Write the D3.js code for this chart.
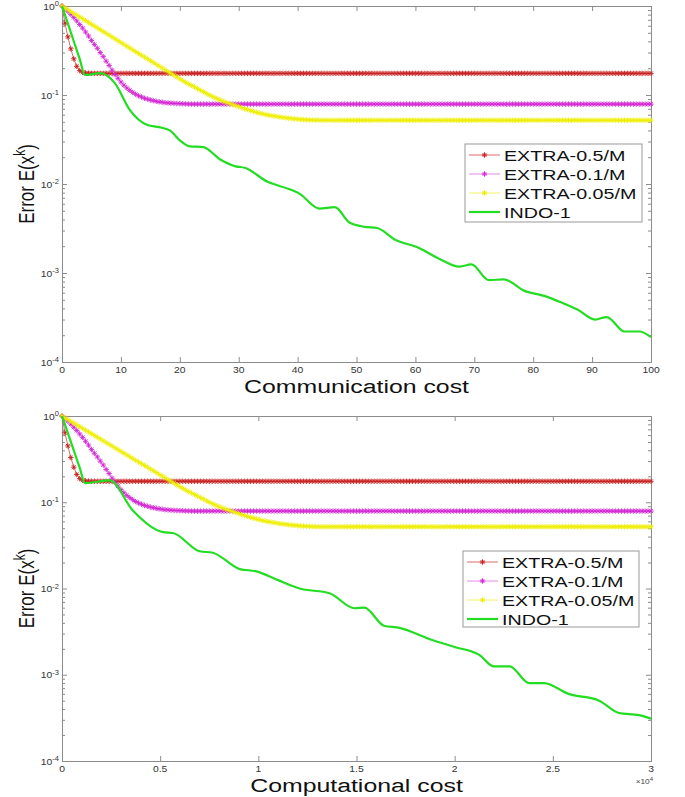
<!DOCTYPE html>
<html>
<head>
<meta charset="utf-8">
<script src="https://cdn.jsdelivr.net/npm/d3@7"></script>
<style>
  body { margin: 0; background: #fff; }
  svg { display: block; }
  text { font-family: "Liberation Sans", Arial, sans-serif; }
</style>
</head>
<body>
<div id="viz"></div>
<script>

// x values: communication cost (top) and computational cost (bottom), one per half-iteration
var commCost = [
  0,0.5,1,1.5,2,2.5,3,3.5,4,4.5,5,5.5,6,6.5,7,7.5,8,8.5,9,9.5,
  10,10.5,11,11.5,12,12.5,13,13.5,14,14.5,15,15.5,16,16.5,17,17.5,18,18.5,19,19.5,
  20,20.5,21,21.5,22,22.5,23,23.5,24,24.5,25,25.5,26,26.5,27,27.5,28,28.5,29,29.5,
  30,30.5,31,31.5,32,32.5,33,33.5,34,34.5,35,35.5,36,36.5,37,37.5,38,38.5,39,39.5,
  40,40.5,41,41.5,42,42.5,43,43.5,44,44.5,45,45.5,46,46.5,47,47.5,48,48.5,49,49.5,
  50,50.5,51,51.5,52,52.5,53,53.5,54,54.5,55,55.5,56,56.5,57,57.5,58,58.5,59,59.5,
  60,60.5,61,61.5,62,62.5,63,63.5,64,64.5,65,65.5,66,66.5,67,67.5,68,68.5,69,69.5,
  70,70.5,71,71.5,72,72.5,73,73.5,74,74.5,75,75.5,76,76.5,77,77.5,78,78.5,79,79.5,
  80,80.5,81,81.5,82,82.5,83,83.5,84,84.5,85,85.5,86,86.5,87,87.5,88,88.5,89,89.5,
  90,90.5,91,91.5,92,92.5,93,93.5,94,94.5,95,95.5,96,96.5,97,97.5,98,98.5,99,99.5,
  100];
var compCost = [
  0,150,300,450,600,750,900,1050,1200,1350,1500,1650,1800,1950,2100,2250,2400,2550,2700,2850,
  3000,3150,3300,3450,3600,3750,3900,4050,4200,4350,4500,4650,4800,4950,5100,5250,5400,5550,5700,5850,
  6000,6150,6300,6450,6600,6750,6900,7050,7200,7350,7500,7650,7800,7950,8100,8250,8400,8550,8700,8850,
  9000,9150,9300,9450,9600,9750,9900,10050,10200,10350,10500,10650,10800,10950,11100,11250,11400,11550,11700,11850,
  12000,12150,12300,12450,12600,12750,12900,13050,13200,13350,13500,13650,13800,13950,14100,14250,14400,14550,14700,14850,
  15000,15150,15300,15450,15600,15750,15900,16050,16200,16350,16500,16650,16800,16950,17100,17250,17400,17550,17700,17850,
  18000,18150,18300,18450,18600,18750,18900,19050,19200,19350,19500,19650,19800,19950,20100,20250,20400,20550,20700,20850,
  21000,21150,21300,21450,21600,21750,21900,22050,22200,22350,22500,22650,22800,22950,23100,23250,23400,23550,23700,23850,
  24000,24150,24300,24450,24600,24750,24900,25050,25200,25350,25500,25650,25800,25950,26100,26250,26400,26550,26700,26850,
  27000,27150,27300,27450,27600,27750,27900,28050,28200,28350,28500,28650,28800,28950,29100,29250,29400,29550,29700,29850,
  30000];

// EXTRA error values (same curves in both panels)
var extra05 = [
  1,0.64,0.45,0.33,0.255,0.21,0.188,0.18,0.177,0.176,
  0.175,0.175,0.175,0.175,0.175,0.175,0.175,0.175,0.175,0.175,0.175,0.175,0.175,0.175,0.175,0.175,0.175,0.175,0.175,0.175,
  0.175,0.175,0.175,0.175,0.175,0.175,0.175,0.175,0.175,0.175,0.175,0.175,0.175,0.175,0.175,0.175,0.175,0.175,0.175,0.175,
  0.175,0.175,0.175,0.175,0.175,0.175,0.175,0.175,0.175,0.175,0.175,0.175,0.175,0.175,0.175,0.175,0.175,0.175,0.175,0.175,
  0.175,0.175,0.175,0.175,0.175,0.175,0.175,0.175,0.175,0.175,0.175,0.175,0.175,0.175,0.175,0.175,0.175,0.175,0.175,0.175,
  0.175,0.175,0.175,0.175,0.175,0.175,0.175,0.175,0.175,0.175,0.175,0.175,0.175,0.175,0.175,0.175,0.175,0.175,0.175,0.175,
  0.175,0.175,0.175,0.175,0.175,0.175,0.175,0.175,0.175,0.175,0.175,0.175,0.175,0.175,0.175,0.175,0.175,0.175,0.175,0.175,
  0.175,0.175,0.175,0.175,0.175,0.175,0.175,0.175,0.175,0.175,0.175,0.175,0.175,0.175,0.175,0.175,0.175,0.175,0.175,0.175,
  0.175,0.175,0.175,0.175,0.175,0.175,0.175,0.175,0.175,0.175,0.175,0.175,0.175,0.175,0.175,0.175,0.175,0.175,0.175,0.175,
  0.175,0.175,0.175,0.175,0.175,0.175,0.175,0.175,0.175,0.175,0.175,0.175,0.175,0.175,0.175,0.175,0.175,0.175,0.175,0.175,
  0.175,0.175,0.175,0.175,0.175,0.175,0.175,0.175,0.175,0.175,0.175];
var extra01 = [
  1,0.94,0.87,0.805,0.74,0.68,0.62,0.565,0.51,0.46,0.41,0.37,0.335,0.3,0.27,0.24,0.215,0.19,0.17,0.154,
  0.14,0.129,0.12,0.113,0.107,0.102,0.098,0.095,0.092,0.09,0.088,0.0865,0.085,0.084,0.083,0.082,0.0815,0.081,0.0805,0.0802,
  0.08,0.0797,0.0795,0.0792,
  0.079,0.079,0.079,0.079,0.079,0.079,0.079,0.079,0.079,0.079,0.079,0.079,0.079,0.079,0.079,0.079,0.079,0.079,0.079,0.079,
  0.079,0.079,0.079,0.079,0.079,0.079,0.079,0.079,0.079,0.079,0.079,0.079,0.079,0.079,0.079,0.079,0.079,0.079,0.079,0.079,
  0.079,0.079,0.079,0.079,0.079,0.079,0.079,0.079,0.079,0.079,0.079,0.079,0.079,0.079,0.079,0.079,0.079,0.079,0.079,0.079,
  0.079,0.079,0.079,0.079,0.079,0.079,0.079,0.079,0.079,0.079,0.079,0.079,0.079,0.079,0.079,0.079,0.079,0.079,0.079,0.079,
  0.079,0.079,0.079,0.079,0.079,0.079,0.079,0.079,0.079,0.079,0.079,0.079,0.079,0.079,0.079,0.079,0.079,0.079,0.079,0.079,
  0.079,0.079,0.079,0.079,0.079,0.079,0.079,0.079,0.079,0.079,0.079,0.079,0.079,0.079,0.079,0.079,0.079,0.079,0.079,0.079,
  0.079,0.079,0.079,0.079,0.079,0.079,0.079,0.079,0.079,0.079,0.079,0.079,0.079,0.079,0.079,0.079,0.079,0.079,0.079,0.079,
  0.079,0.079,0.079,0.079,0.079,0.079,0.079,0.079,0.079,0.079,0.079,0.079,0.079,0.079,0.079,0.079,0.079];
var extra005 = [
  1,0.954,0.91,0.868,0.828,0.79,0.753,0.719,0.686,0.654,0.624,0.595,0.567,0.541,0.516,0.492,0.47,0.448,0.427,0.408,
  0.389,0.371,0.354,0.338,0.322,0.307,0.293,0.28,0.267,0.255,0.243,0.232,0.221,0.211,0.201,0.192,0.183,0.175,0.167,0.159,
  0.152,0.145,0.139,0.133,0.128,0.123,0.118,0.113,0.109,0.104,0.1,0.0965,0.093,0.09,0.087,0.0845,0.082,0.08,0.078,0.076,
  0.074,0.072,0.07,0.0685,0.067,0.0655,0.064,0.0627,0.0615,0.0605,0.0595,0.0587,0.058,0.0572,0.0565,0.0559,0.0553,0.0548,0.0543,0.0539,
  0.0535,0.0532,0.0529,0.0527,0.0525,0.0523,0.0522,0.0521,
  0.052,0.052,0.052,0.052,0.052,0.052,0.052,0.052,0.052,0.052,0.052,0.052,0.052,0.052,0.052,0.052,0.052,0.052,0.052,0.052,
  0.052,0.052,0.052,0.052,0.052,0.052,0.052,0.052,0.052,0.052,0.052,0.052,0.052,0.052,0.052,0.052,0.052,0.052,0.052,0.052,
  0.052,0.052,0.052,0.052,0.052,0.052,0.052,0.052,0.052,0.052,0.052,0.052,0.052,0.052,0.052,0.052,0.052,0.052,0.052,0.052,
  0.052,0.052,0.052,0.052,0.052,0.052,0.052,0.052,0.052,0.052,0.052,0.052,0.052,0.052,0.052,0.052,0.052,0.052,0.052,0.052,
  0.052,0.052,0.052,0.052,0.052,0.052,0.052,0.052,0.052,0.052,0.052,0.052,0.052,0.052,0.052,0.052,0.052,0.052,0.052,0.052,
  0.052,0.052,0.052,0.052,0.052,0.052,0.052,0.052,0.052,0.052,0.052,0.052,0.052];

// INDO-1 readings
var indoCommX = [0,1,2,3,3.9,6.5,9,11.5,14.5,16.5,18.3,20,21.7,24,26.8,29.5,31,35,38.5,40.3,43.7,46.3,
  48.8,51.4,53.5,56.4,60.7,64,67.5,69.5,72.5,75,78.5,82,85,87.5,90.5,92.5,95.5,98,100];
var indoComm = [1,0.634,0.402,0.255,0.168,0.176,0.135,0.068,0.046,0.0435,0.04,0.031,0.0265,0.026,0.019,
  0.0158,0.0152,0.0105,0.0088,0.0078,0.0053,0.0055,0.0037,0.0033,0.0032,0.0024,0.0019,0.00145,
  0.00118,0.00125,0.00083,0.00085,0.00063,0.00055,0.00046,0.00039,0.0003,0.00032,0.00022,0.00022,0.00019];
var indoCompX = [0,300,600,900,1170,2440,3610,5140,5650,7020,7680,9050,9900,11000,12100,13630,14900,
  15400,16400,17200,18700,20000,21250,22000,22800,23800,24560,25800,27360,28370,29390,30000];
var indoComp = [1,0.632,0.4,0.252,0.167,0.179,0.08,0.045,0.044,0.027,0.026,0.0168,0.0158,0.0125,0.01,
  0.0088,0.0059,0.006,0.0037,0.0035,0.0026,0.0021,0.0017,0.00125,0.00125,0.0008,0.0008,0.0006,
  0.0005,0.00036,0.00034,0.00031];

var seriesNames = ['EXTRA-0.5/M', 'EXTRA-0.1/M', 'EXTRA-0.05/M', 'INDO-1'];
var commTicks = [0,10,20,30,40,50,60,70,80,90,100];
var commTickLabels = ['0','10','20','30','40','50','60','70','80','90','100'];
var compTicks = [0,5000,10000,15000,20000,25000,30000];
var compTickLabels = ['0','0.5','1','1.5','2','2.5','3'];
var yTicks = [1e-4,1e-3,1e-2,1e-1,1];
var yTickExp = ['-4','-3','-2','-1','0'];

var W = 685, H = 797;
var lineCol = ['#e06a6a', '#e68ae6', '#f2f266', '#22dd22'];
var markCol = ['#c82020', '#d424d4', '#eeee00', '#22dd22'];
var star = 'M-2.7,0H2.7M0,-2.7V2.7M-1.9,-1.9L1.9,1.9M-1.9,1.9L1.9,-1.9';

var svg = d3.select('#viz').append('svg')
  .attr('width', W)
  .attr('height', H);

function stretch(sel, x, y, sx) {
  sel.attr('transform', 'translate(' + x + ',' + y + ') scale(' + sx + ',1)');
}

function drawPanel(p) {
  var x = d3.scaleLinear().domain([p.xTicks[0], p.xTicks[p.xTicks.length - 1]]).range([p.left, p.right]);
  var y = d3.scaleLog().domain([1e-4, 1]).range([p.bottom, p.top]);
  var g = svg.append('g');

  // minor log ticks
  var minors = [];
  yTicks.slice(0, 4).forEach(function(t) {
    for (var m = 2; m <= 9; m++) minors.push(t * m);
  });

  var axisCol = '#8c8c8c';
  var leftAxis = d3.axisLeft(y).tickValues(yTicks).tickSize(-5).tickFormat('');
  var rightAxis = d3.axisRight(y).tickValues(yTicks).tickSize(-5).tickFormat('');
  var leftMinor = d3.axisLeft(y).tickValues(minors).tickSize(-3).tickFormat('');
  var rightMinor = d3.axisRight(y).tickValues(minors).tickSize(-3).tickFormat('');
  var botAxis = d3.axisBottom(x).tickValues(p.xTicks).tickSize(-5).tickFormat('');
  var topAxis = d3.axisTop(x).tickValues(p.xTicks).tickSize(-5).tickFormat('');

  [[leftAxis, p.left, 0], [leftMinor, p.left, 0], [rightAxis, p.right, 0], [rightMinor, p.right, 0],
   [botAxis, 0, p.bottom], [topAxis, 0, p.top]].forEach(function(a) {
    var ag = g.append('g').attr('transform', 'translate(' + a[1] + ',' + a[2] + ')').call(a[0]);
    ag.selectAll('line').attr('stroke', axisCol);
    ag.select('.domain').attr('stroke', axisCol);
  });

  // y tick labels 10^k
  yTicks.forEach(function(t, i) {
    var tx = g.append('text')
      .attr('text-anchor', 'end')
      .attr('fill', '#333')
      .attr('font-size', 9);
    stretch(tx, p.left - 3, y(t) + 3.5, 1.15);
    tx.append('tspan').text('10');
    tx.append('tspan').attr('dy', -3.5).attr('font-size', 6.5).text(yTickExp[i]);
  });

  // x tick labels
  p.xTicks.forEach(function(t, i) {
    var tx = g.append('text')
      .attr('text-anchor', 'middle')
      .attr('fill', '#333')
      .attr('font-size', 9)
      .text(p.xTickLabels[i]);
    stretch(tx, x(t), p.bottom + 11, 1.15);
  });

  if (p.exponent) {
    var ex = g.append('text').attr('text-anchor', 'end').attr('fill', '#444').attr('font-size', 7.5);
    stretch(ex, p.right + 2, p.bottom + 23, 1.1);
    ex.append('tspan').text('\u00d710');
    ex.append('tspan').attr('dy', -3).attr('font-size', 5.5).text('4');
  }

  // axis titles
  var xt = g.append('text')
    .attr('text-anchor', 'middle')
    .attr('fill', '#111')
    .attr('font-size', 18)
    .text(p.xTitle);
  stretch(xt, (p.left + p.right) / 2, p.bottom + p.titleGap, 1.38);

  var yt = g.append('text')
    .attr('text-anchor', 'middle')
    .attr('fill', '#111')
    .attr('font-size', 17)
    .attr('transform', 'translate(34,' + ((p.top + p.bottom) / 2) + ') rotate(-90) scale(1,1.3)');
  yt.append('tspan').text('Error E(x');
  yt.append('tspan').attr('dy', -7).attr('font-size', 12).text('k');
  yt.append('tspan').attr('dy', 7).text(')');

  var series = [
    { xs: p.extraX, ys: extra05, marker: true },
    { xs: p.extraX, ys: extra01, marker: true },
    { xs: p.extraX, ys: extra005, marker: true },
    { xs: p.indoX, ys: p.indoY, marker: false }
  ];

  var plot = g.append('g');
  series.forEach(function(s, k) {
    var pts = s.xs.map(function(v, i) { return [v, s.ys[i]]; });
    var line = d3.line()
      .x(function(d) { return x(d[0]); })
      .y(function(d) { return y(d[1]); })
      .curve(s.marker ? d3.curveLinear : d3.curveMonotoneX);
    plot.append('path')
      .datum(pts)
      .attr('fill', 'none')
      .attr('stroke', lineCol[k])
      .attr('stroke-width', s.marker ? 1 : 2.2)
      .attr('d', line);
    if (s.marker) {
      plot.selectAll('.m' + k).data(pts).enter().append('path')
        .attr('class', 'm' + k)
        .attr('d', star)
        .attr('fill', 'none')
        .attr('stroke', markCol[k])
        .attr('stroke-width', 0.9)
        .attr('transform', function(d) { return 'translate(' + x(d[0]) + ',' + y(d[1]) + ')'; });
    }
  });

  // legend
  var lb = p.legend;
  g.append('rect')
    .attr('x', lb.x).attr('y', lb.y).attr('width', lb.w).attr('height', lb.h)
    .attr('fill', '#fff').attr('stroke', '#999').attr('stroke-width', 1);
  seriesNames.forEach(function(name, k) {
    var ry = lb.y + 11 + k * 19;
    g.append('line')
      .attr('x1', lb.x + 4).attr('x2', lb.x + 35).attr('y1', ry).attr('y2', ry)
      .attr('stroke', lineCol[k]).attr('stroke-width', k === 3 ? 2.2 : 1);
    if (k < 3) {
      g.append('path').attr('d', star).attr('fill', 'none')
        .attr('stroke', markCol[k]).attr('stroke-width', 1)
        .attr('transform', 'translate(' + (lb.x + 19.5) + ',' + ry + ')');
    }
    var tx = g.append('text').attr('fill', '#111').attr('font-size', 15.5).text(name);
    stretch(tx, lb.x + 39, ry + 5.5, 1.27);
  });
}

drawPanel({
  left: 62, right: 651, top: 6, bottom: 362,
  xTicks: commTicks, xTickLabels: commTickLabels, xTitle: 'Communication cost', titleGap: 31,
  extraX: commCost, indoX: indoCommX, indoY: indoComm, exponent: false,
  legend: { x: 465, y: 144, w: 177, h: 78 }
});

drawPanel({
  left: 62, right: 651, top: 416, bottom: 761,
  xTicks: compTicks, xTickLabels: compTickLabels, xTitle: 'Computational cost', titleGap: 31,
  extraX: compCost, indoX: indoCompX, indoY: indoComp, exponent: true,
  legend: { x: 463, y: 551, w: 176, h: 76 }
});

</script>
</body>
</html>
